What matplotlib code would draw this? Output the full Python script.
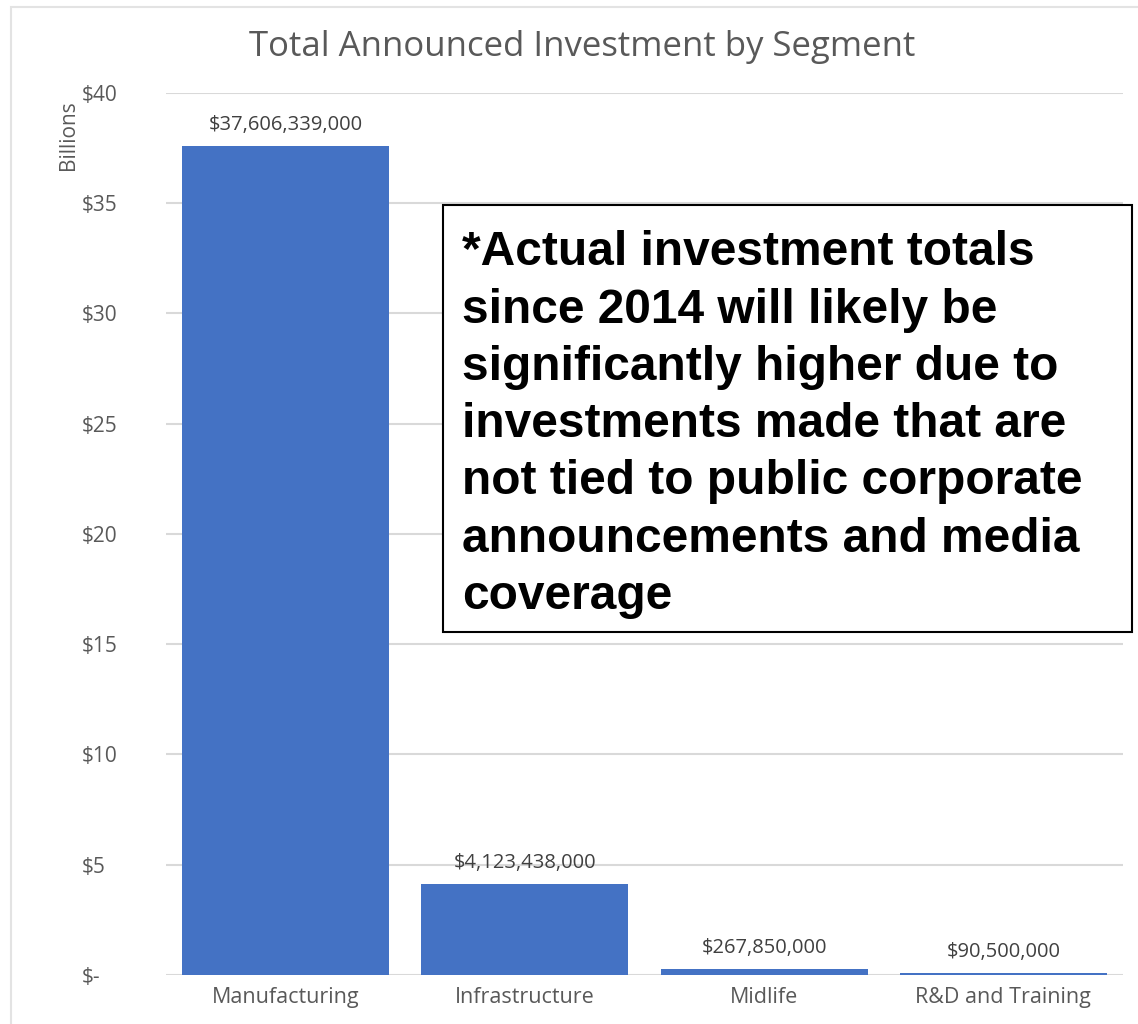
import matplotlib
matplotlib.use("Agg")
import matplotlib.pyplot as plt
from matplotlib.patches import Rectangle

# ---- data ----
segments = ["Manufacturing", "Infrastructure", "Midlife", "R&D and Training"]
investment = [37606339000, 4123438000, 267850000, 90500000]
y_ticks = [0, 5, 10, 15, 20, 25, 30, 35, 40]
y_tick_labels = ["$-", "$5", "$10", "$15", "$20", "$25", "$30", "$35", "$40"]
title = "Total Announced Investment by Segment"
note = ("*Actual investment totals\n"
        "since 2014 will likely be\n"
        "significantly higher due to\n"
        "investments made that are\n"
        "not tied to public corporate\n"
        "announcements and media\n"
        "coverage")

BAR_COLOR = "#4472C4"
TEXT_GRAY = "#595959"
GRID_GRAY = "#d9d9d9"

plt.rcParams["font.family"] = ["Open Sans", "DejaVu Sans"]

fig = plt.figure(figsize=(11.38, 10.24), dpi=100)
ax = fig.add_axes([0.1459, 0.0479, 0.8409, 0.8613])

billions = [v / 1e9 for v in investment]
x = list(range(len(segments)))
bars = ax.bar(x, billions, width=0.866, color=BAR_COLOR, zorder=3)

# data labels
for rect, v in zip(bars, investment):
    ax.annotate(f"${v:,.0f}", (rect.get_x() + rect.get_width() / 2, rect.get_height()),
                xytext=(0, 8), textcoords="offset points", ha="center", va="bottom",
                fontsize=14.5, color="#404040")

ax.set_xlim(-0.5, len(segments) - 0.5)
ax.set_ylim(0, 40)
ax.set_yticks(y_ticks)
ax.set_yticklabels(y_tick_labels)
ax.set_xticks(x)
ax.set_xticklabels(segments)
for lab in ax.get_yticklabels():
    lab.set_ha("left")
ax.tick_params(axis="y", length=0, pad=61, labelsize=15, labelcolor=TEXT_GRAY)
ax.tick_params(axis="x", length=0, pad=9, labelsize=15.5, labelcolor=TEXT_GRAY)
ax.grid(axis="y", color=GRID_GRAY, linewidth=1.5, zorder=0)
for s in ax.spines.values():
    s.set_visible(False)

fig.text(0.0598, 0.868, "Billions", rotation=90, ha="center", va="center",
         fontsize=15, color=TEXT_GRAY)
fig.text(0.512, 0.954, title, ha="center", va="center", fontsize=25, color=TEXT_GRAY)

# outer chart border
fig.patches.append(Rectangle((0.0097, -0.01), 1.0, 1.003, transform=fig.transFigure,
                             fill=False, edgecolor="#e3e3e3", linewidth=1.5))

# note box
fig.patches.append(Rectangle((0.3893, 0.3828), 0.6054, 0.417, transform=fig.transFigure,
                             facecolor="white", edgecolor="black", linewidth=1.5, zorder=5))
fig.text(0.406, 0.775, note, ha="left", va="top", fontsize=34.5, fontweight="bold",
         family=["Liberation Sans", "DejaVu Sans"], linespacing=1.35, color="black", zorder=6)

fig.savefig("out.png", dpi=100)
